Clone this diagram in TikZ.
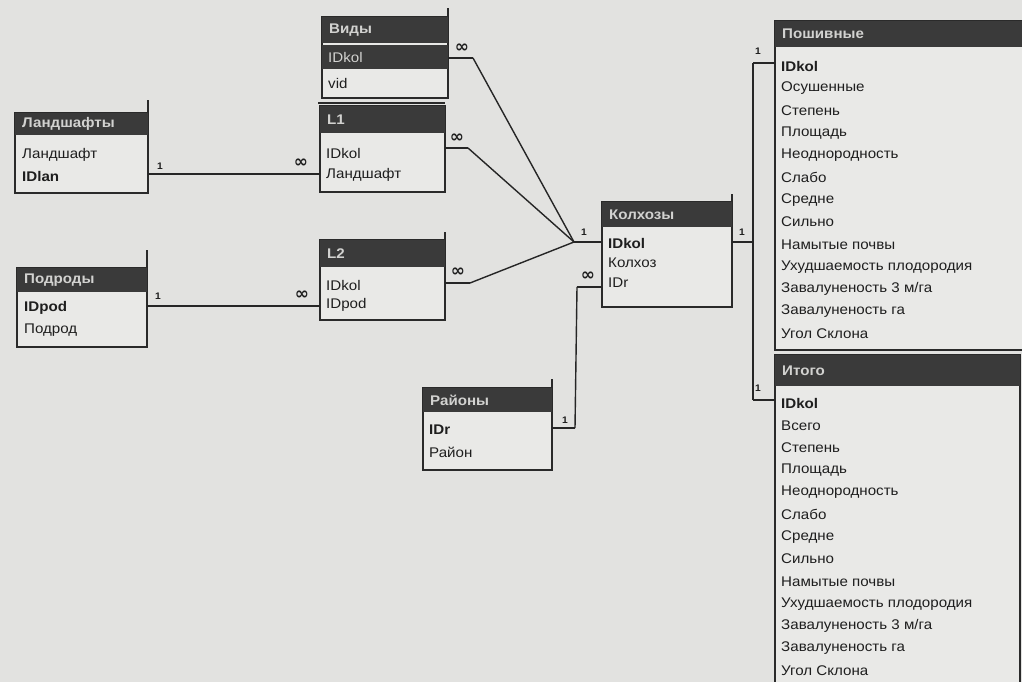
\documentclass[tikz,border=0pt]{standalone}
\usepackage{fontspec}
\setmainfont{Liberation Sans}[FakeStretch=1.08]
\newfontfamily\symfam{DejaVu Sans}
\definecolor{bgc}{HTML}{E2E2E0}
\definecolor{tabfill}{HTML}{E9E9E7}
\definecolor{ttlfill}{HTML}{3A3A3A}
\definecolor{ttltext}{HTML}{D2D2D0}
\definecolor{bdr}{HTML}{2A2A2A}
\definecolor{lnc}{HTML}{262626}
\definecolor{txt}{HTML}{1E1E1E}
\newcommand{\tblfont}{\fontsize{14}{16}\selectfont}
\newcommand{\lblfont}{\fontsize{9.5}{10}\selectfont}
% name, x1, x2, bar top, bar bottom, bottom, title
\newcommand{\dbtable}[7]{%
  \node[frame, anchor=north west, minimum width={#3-#2}, minimum height={#6-#4}] (#1) at (#2,#4) {};
  \fill[ttlfill] (#2,#4) rectangle (#3,#5);
  \node[ttltxt] (#1T) at (#2+7,{(#4+#5)/2}) {#7};
}
\begin{document}
\begin{tikzpicture}[x=1pt,y=-1pt,
  frame/.style={draw=bdr, line width=1.6pt, fill=tabfill, inner sep=0pt, outer sep=0pt, rectangle},
  edge/.style={draw=bdr, line width=1.6pt},
  ttltxt/.style={anchor=west, inner sep=0pt, text=ttltext, font=\tblfont\bfseries},
  rowtxt/.style={anchor=west, inner sep=0pt, text=txt, font=\tblfont},
  keytxt/.style={anchor=west, inner sep=0pt, text=txt, font=\tblfont\bfseries},
  seltxt/.style={anchor=west, inner sep=0pt, text=ttltext, font=\tblfont},
  rel/.style={draw=lnc, line width=1.4pt},
  stub/.style={draw=lnc, line width=2.6pt},
  onelbl/.style={font=\lblfont\bfseries, inner sep=0pt, text=txt},
  manylbl/.style={font=\symfam\bfseries\fontsize{17}{17}\selectfont, inner sep=0pt, text=txt}]
\useasboundingbox (0,0) rectangle (1022,682);
\fill[bgc] (0,0) rectangle (1022,682);
\clip (0,0) rectangle (1022,682);

% ---------- Ландшафты ----------
\dbtable{lan}{15}{148}{113}{135}{193}{Ландшафты}
\draw[edge] (lan.north east) -- (148,100);
\node[rowtxt] (lanR1) at (22,155) {Ландшафт};
\node[keytxt] (lanR2) at (22,176) {IDlan};

% ---------- Подроды ----------
\dbtable{pod}{17}{147}{268}{292}{347}{Подроды}
\draw[edge] (pod.north east) -- (147,250);
\node[keytxt] (podR1) at (24,308) {IDpod};
\node[rowtxt] (podR2) at (24,330) {Подрод};

% ---------- Виды ----------
\dbtable{vid}{322}{448}{17}{43}{98}{Виды}
\draw[edge] (vid.north east) -- (448,8);
\fill[ttlfill] (322,45) rectangle (448,69);
\node[seltxt] (vidR1) at (328,57) {IDkol};
\node[rowtxt] (vidR2) at (328,83) {vid};

% ---------- L1 ----------
\dbtable{lone}{320}{445}{106}{133}{192}{L1}
\draw[edge] (318,103) -- (445,103);
\node[rowtxt] (loneR1) at (326,153) {IDkol};
\node[rowtxt] (loneR2) at (326,175) {Ландшафт};

% ---------- L2 ----------
\dbtable{ltwo}{320}{445}{240}{267}{320}{L2}
\draw[edge] (ltwo.north east) -- (445,232);
\node[rowtxt] (ltwoR1) at (326,285) {IDkol};
\node[rowtxt] (ltwoR2) at (326,305) {IDpod};

% ---------- Колхозы ----------
\dbtable{kol}{602}{732}{202}{227}{307}{Колхозы}
\draw[edge] (kol.north east) -- (732,194);
\node[keytxt] (kolR1) at (608,243) {IDkol};
\node[rowtxt] (kolR2) at (608,263) {Колхоз};
\node[rowtxt] (kolR3) at (608,283) {IDr};

% ---------- Районы ----------
\dbtable{ray}{423}{552}{388}{412}{470}{Районы}
\draw[edge] (ray.north east) -- (552,379);
\node[keytxt] (rayR1) at (429,430) {IDr};
\node[rowtxt] (rayR2) at (429,452) {Район};

% ---------- Пошивные ----------
\dbtable{posh}{775}{1030}{21}{47}{350}{Пошивные}
\node[keytxt] (poshR0) at (781,66) {IDkol};
\foreach \t [count=\i] in {Осушенные,Степень,Площадь,Неоднородность,Слабо,Средне,Сильно,Намытые почвы,Ухудшаемость плодородия,Завалуненость 3 м/га,Завалуненость га,Угол Склона}
  \node[rowtxt] (poshR\i) at (781,66+22.3*\i) {\t};

% ---------- Итого ----------
\dbtable{itog}{775}{1020}{355}{386}{700}{Итого}
\node[keytxt] (itogR0) at (781,403) {IDkol};
\foreach \t [count=\i] in {Всего,Степень,Площадь,Неоднородность,Слабо,Средне,Сильно,Намытые почвы,Ухудшаемость плодородия,Завалуненость 3 м/га,Завалуненость га,Угол Склона}
  \node[rowtxt] (itogR\i) at (781,403+22.3*\i) {\t};

% ---------- relationships ----------
% Ландшафты -> L1
\draw[rel] (lan.east |- 0,174) -- (lone.west |- 0,174);
\draw[stub] (lan.east |- 0,174) -- ++(12,0);
\draw[stub] (lone.west |- 0,174) -- ++(-12,0);
\node[onelbl] (lanOne) at (160,166) {1};
\node[manylbl] (loneMany) at (301,163) {∞};

% Подроды -> L2
\draw[rel] (pod.east |- 0,306) -- (ltwo.west |- 0,306);
\draw[stub] (pod.east |- 0,306) -- ++(12,0);
\draw[stub] (ltwo.west |- 0,306) -- ++(-12,0);
\node[onelbl] (podOne) at (158,296) {1};
\node[manylbl] (ltwoMany) at (302,295) {∞};

% Виды, L1, L2 -> Колхозы
\coordinate (kolIn) at (574,242);
\coordinate (vidS) at (473,58);
\coordinate (loneS) at (468,148);
\coordinate (ltwoS) at (470,283);
\draw[stub] (vid.east |- vidS) -- (vidS);
\draw[rel] (vidS) -- (kolIn);
\draw[stub] (lone.east |- loneS) -- (loneS);
\draw[rel] (loneS) -- (kolIn);
\draw[stub] (ltwo.east |- ltwoS) -- (ltwoS);
\draw[rel] (ltwoS) -- (kolIn);
\draw[stub] (kolIn) -- (kol.west |- kolIn);
\node[manylbl] (vidMany) at (462,48) {∞};
\node[manylbl] (loneMany2) at (457,138) {∞};
\node[manylbl] (ltwoMany2) at (458,272) {∞};
\node[onelbl] (kolOneL) at (584,232) {1};

% Районы -> Колхозы
\coordinate (rayS) at (575,428);
\coordinate (kolS) at (577,287);
\draw[stub] (ray.east |- rayS) -- (rayS);
\draw[rel] (rayS) -- (kolS);
\draw[stub] (kolS) -- (kol.west |- kolS);
\node[onelbl] (rayOne) at (565,420) {1};
\node[manylbl] (kolMany) at (588,276) {∞};

% Колхозы -> Пошивные, Итого
\coordinate (kolOut) at (753,242);
\coordinate (poshS) at (753,63);
\coordinate (itogS) at (753,400);
\draw[stub] (kol.east |- kolOut) -- (kolOut);
\draw[rel] (kolOut) -- (poshS);
\draw[rel] (kolOut) -- (itogS);
\draw[stub] (poshS) -- (posh.west |- poshS);
\draw[stub] (itogS) -- (itog.west |- itogS);
\node[onelbl] (kolOneR) at (742,232) {1};
\node[onelbl] (poshOne) at (758,51) {1};
\node[onelbl] (itogOne) at (758,388) {1};
\end{tikzpicture}
\end{document}
